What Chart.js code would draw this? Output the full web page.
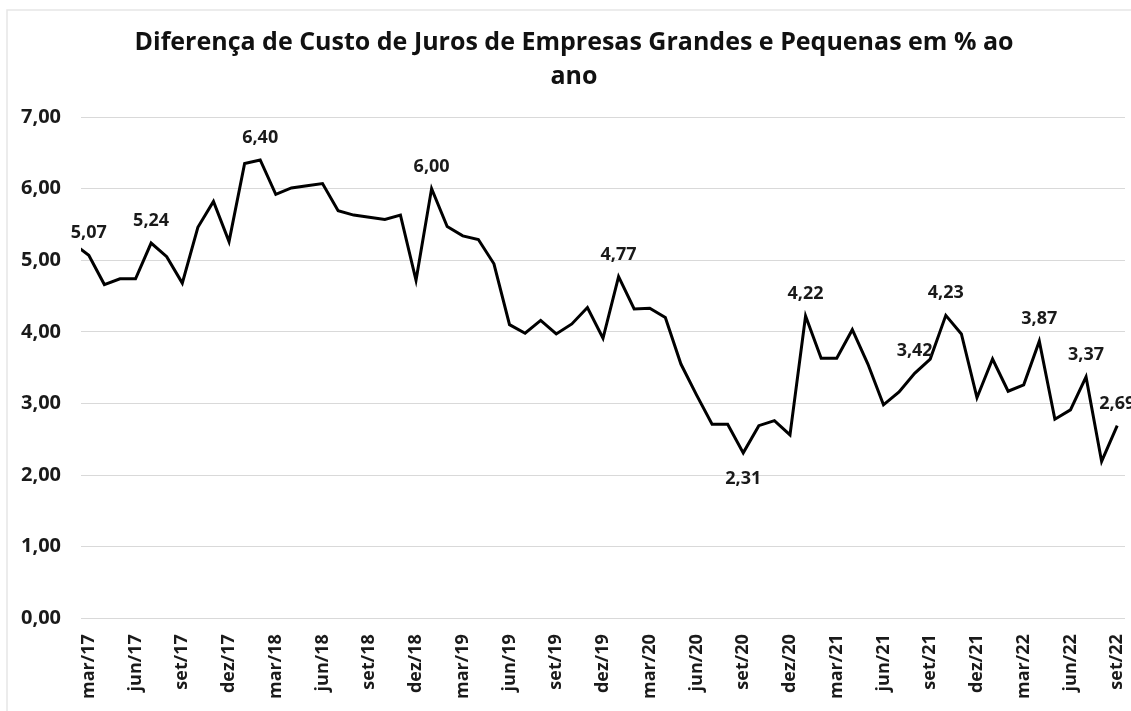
<!DOCTYPE html>
<html>
<head>
<meta charset="utf-8">
<script src="https://cdn.jsdelivr.net/npm/chart.js@4"></script>
<style>
  html, body { margin: 0; padding: 0; background: #fff; }
  #wrap { width: 1131px; height: 711px; }
</style>
</head>
<body>
<div id="wrap"><canvas id="spreadChart" width="1131" height="711"></canvas></div>
<script>
// monthly spread, fev/17 .. set/22 (first month sits just off the left edge)
const values = [
  5.23, 5.07, 4.66, 4.74, 4.74, 5.24, 5.05, 4.68, 5.46, 5.82, 5.26, 6.35,
  6.40, 5.92, 6.01, 6.04, 6.07, 5.69, 5.63, 5.60, 5.57, 5.63, 4.72, 6.00,
  5.47, 5.34, 5.29, 4.95, 4.10, 3.98, 4.16, 3.97, 4.11, 4.34, 3.91, 4.77,
  4.32, 4.33, 4.20, 3.55, 3.12, 2.71, 2.71, 2.31, 2.69, 2.76, 2.56, 4.22,
  3.63, 3.63, 4.03, 3.55, 2.98, 3.16, 3.42, 3.62, 4.23, 3.97, 3.08, 3.62,
  3.17, 3.26, 3.87, 2.78, 2.91, 3.37, 2.19, 2.69
];

const tickLabels = [
  "mar/17", "jun/17", "set/17", "dez/17", "mar/18", "jun/18", "set/18", "dez/18",
  "mar/19", "jun/19", "set/19", "dez/19", "mar/20", "jun/20", "set/20", "dez/20",
  "mar/21", "jun/21", "set/21", "dez/21", "mar/22", "jun/22", "set/22"
];

// which points get a value label, and which of those sit under the line
const labelIndex = [1, 5, 12, 23, 35, 43, 47, 54, 56, 62, 65, 67];
const belowIndex = [43];

const titleLines = ["Diferença de Custo de Juros de Empresas Grandes e Pequenas em % ao", "ano"];

const FONT = '"Open Sans", "Noto Sans", sans-serif';
const fmt = v => v.toFixed(2).replace(".", ",");

// x = months since mar/17
const points = values.map((v, i) => ({ x: i - 1, y: v }));

const valueLabels = {
  id: "valueLabels",
  afterDatasetsDraw(chart) {
    const meta = chart.getDatasetMeta(0);
    const c = chart.ctx;
    c.save();
    c.font = "bold 18px " + FONT;
    c.fillStyle = "#1a1a1a";
    c.textAlign = "center";
    c.textBaseline = "middle";
    labelIndex.forEach(i => {
      const p = meta.data[i];
      const below = belowIndex.includes(i);
      c.fillText(fmt(values[i]), p.x, below ? p.y + 26 : p.y - 22);
    });
    c.restore();
  }
};

// faint frame along the top and left edge, like the cropped original
// (also nudges the title a bit right, it is centred a little off in the original)
const frame = {
  id: "frame",
  afterLayout(chart) {
    chart.titleBlock.left += 22;
  },
  beforeDraw(chart) {
    const c = chart.ctx;
    c.save();
    c.strokeStyle = "#e6e6e6";
    c.lineWidth = 1.5;
    c.beginPath();
    c.moveTo(7, chart.height);
    c.lineTo(7, 10);
    c.lineTo(chart.width, 10);
    c.stroke();
    c.restore();
  }
};

const ctx = document.getElementById("spreadChart").getContext("2d");
new Chart(ctx, {
  type: "line",
  data: {
    datasets: [
      {
        data: points,
        borderColor: "#000",
        borderWidth: 3,
        pointRadius: 0,
        tension: 0,
        fill: false,
      },
    ],
  },
  options: {
    responsive: false,
    animation: false,
    layout: { padding: { left: 1, right: 6, top: 0, bottom: 4 } },
    plugins: {
      legend: { display: false },
      tooltip: { enabled: false },
      title: {
        display: true,
        text: titleLines,
        color: "#111",
        font: { family: FONT, size: 25, weight: "bold", lineHeight: 1.36 },
        padding: { top: 26, bottom: 23 },
      },
    },
    scales: {
      x: {
        type: "linear",
        min: -0.5,
        max: 66.5,
        grid: { display: false },
        border: { display: false },
        afterBuildTicks: axis => {
          axis.ticks = tickLabels.map((t, i) => ({ value: i * 3 }));
        },
        // rotated labels shouldn't push the plot in from the sides
        afterFit: axis => {
          axis.paddingLeft = 0;
          axis.paddingRight = 0;
        },
        ticks: {
          autoSkip: false,
          minRotation: 90,
          maxRotation: 90,
          padding: 8,
          color: "#1a1a1a",
          font: { family: FONT, size: 18, weight: "bold" },
          callback: (v, i) => tickLabels[i],
        },
      },
      y: {
        min: 0,
        max: 7,
        grid: { color: "#d9d9d9", drawTicks: false },
        border: { display: false },
        ticks: {
          stepSize: 1,
          padding: 20,
          color: "#1a1a1a",
          font: { family: FONT, size: 20, weight: "bold" },
          callback: v => fmt(v),
        },
      },
    },
  },
  plugins: [valueLabels, frame],
});
</script>
</body>
</html>
